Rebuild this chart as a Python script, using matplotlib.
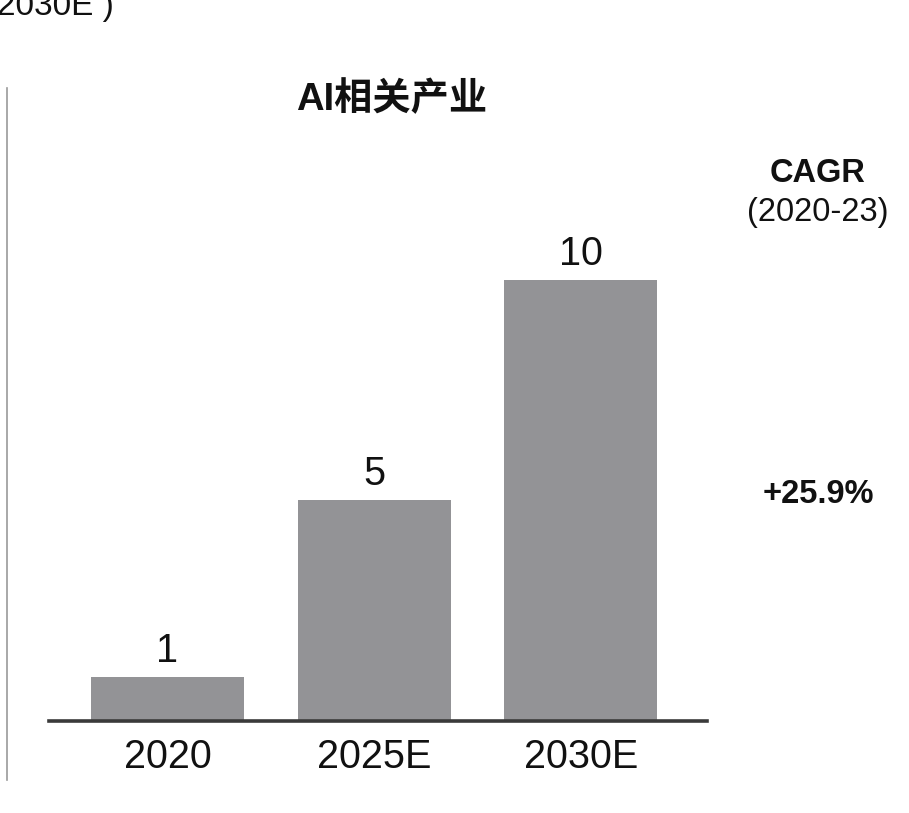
import matplotlib
matplotlib.use("Agg")
import matplotlib.pyplot as plt
from matplotlib.lines import Line2D

categories = ["2020", "2025E", "2030E"]
values = [1, 5, 10]
value_labels = ["1", "5", "10"]
title = "AI相关产业"
cagr_title = "CAGR"
cagr_period = "(2020-23)"
cagr_value = "+25.9%"
top_text = "2030E )"

plt.rcParams['font.family'] = ['Liberation Sans', 'Noto Sans CJK SC', 'DejaVu Sans']

W, H = 909, 813
fig = plt.figure(figsize=(W / 100, H / 100), dpi=100)
ax = fig.add_axes([49 / W, (H - 721) / H, (707 - 49) / W, (721 - 88) / H])

x = list(range(len(categories)))
bars = ax.bar(x, values, width=0.74, color="#939396", zorder=2)
ax.set_xlim(-0.573, 2.61)
ax.set_ylim(0, 14.35)

for xi, v, lab in zip(x, values, value_labels):
    ax.annotate(lab, (xi, v), xytext=(0, 5), textcoords="offset points",
                ha="center", va="bottom", fontsize=28.5, color="#111111")

for s in ["top", "right", "left"]:
    ax.spines[s].set_visible(False)
ax.spines["bottom"].set_linewidth(2.6)
ax.spines["bottom"].set_color("#3a3a3a")
ax.spines["bottom"].set_zorder(3)
ax.set_yticks([])
ax.set_xticks(x)
ax.set_xticklabels(categories, fontsize=28.5, color="#111111")
ax.tick_params(axis="x", length=0, pad=12)

fig.text(392 / W, 1 - 100 / H, title, ha="center", va="center",
         fontsize=27.5, fontweight="bold", color="#111111")
fig.text(818 / W, 1 - 173 / H, cagr_title, ha="center", va="center",
         fontsize=23.5, fontweight="bold", color="#111111")
fig.text(818 / W, 1 - 213 / H, cagr_period, ha="center", va="center",
         fontsize=23.5, color="#111111")
fig.text(818 / W, 1 - 494 / H, cagr_value, ha="center", va="center",
         fontsize=23.5, fontweight="bold", color="#111111")
fig.text(114 / W, 1 - 15 / H, top_text, ha="right", va="baseline",
         fontsize=24, color="#111111")

fig.add_artist(Line2D([7.5 / W, 7.5 / W], [1 - 88 / H, 1 - 780 / H],
                      transform=fig.transFigure, color="#9a9a9a", linewidth=1.2))

fig.savefig("out.png", dpi=100)
